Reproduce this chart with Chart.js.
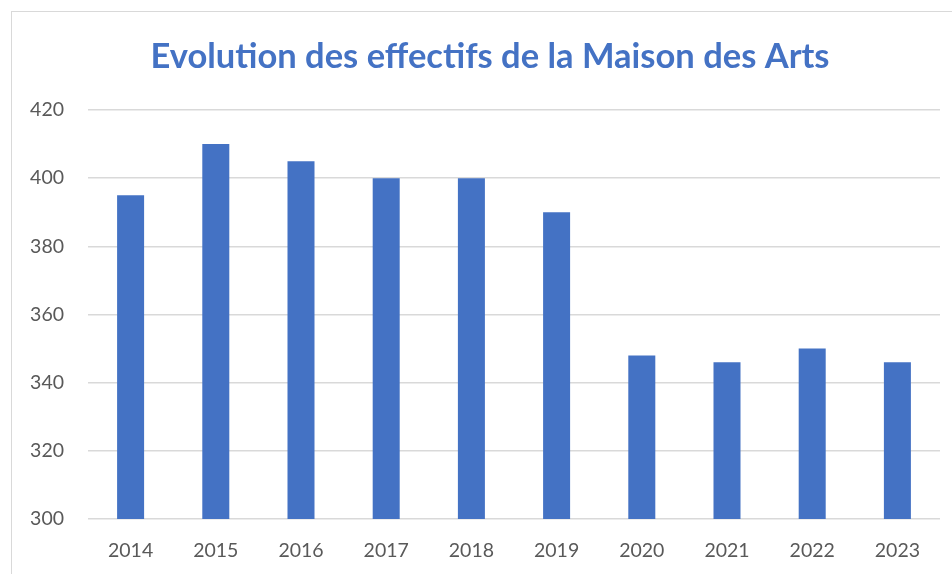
<!DOCTYPE html>
<html><head><meta charset="utf-8">
<script src="https://cdn.jsdelivr.net/npm/chart.js@4"></script>
<style>
html,body{margin:0;padding:0;background:#fff;overflow:hidden;}
#frame{position:absolute;left:11px;top:11px;width:1000px;height:700px;border:1.5px solid #d9d9d9;}
#wrap{position:absolute;left:0;top:0;width:952px;height:574px;}
</style></head>
<body>
<div id="frame"></div>
<div id="wrap"><canvas id="c" width="952" height="574"></canvas></div>
<script>
const categories = ['2014','2015','2016','2017','2018','2019','2020','2021','2022','2023'];
const effectifs = [395, 410, 405, 400, 400, 390, 348, 346, 350, 346];
const yTicks = [300, 320, 340, 360, 380, 400, 420];
const titleText = 'Evolution des effectifs de la Maison des Arts';

const shiftTitle = {
  id: 'shiftTitle',
  afterLayout(chart) {
    if (chart.titleBlock) { chart.titleBlock.left += 40; }
  }
};

new Chart(document.getElementById('c'), {
  type: 'bar',
  data: {
    labels: categories,
    datasets: [{
      data: effectifs,
      backgroundColor: '#4472C4',
      borderWidth: 0,
      categoryPercentage: 1,
      barPercentage: 0.317
    }]
  },
  plugins: [shiftTitle],
  options: {
    responsive: false,
    animation: false,
    devicePixelRatio: 1,
    layout: { padding: { left: 0, right: 12, top: 0, bottom: 0 } },
    plugins: {
      legend: { display: false },
      tooltip: { enabled: false },
      title: {
        display: true,
        text: titleText,
        color: '#4472C4',
        font: { family: 'Lato', size: 34.5, weight: 'bold', lineHeight: 1.2 },
        padding: { top: 36, bottom: 32.6 }
      }
    },
    scales: {
      x: {
        grid: { display: false, drawTicks: false },
        border: { display: false },
        ticks: { color: '#595959', font: { family: 'Lato', size: 19.5 }, padding: 20, maxRotation: 0 },
        afterFit: s => { s.height = 55; }
      },
      y: {
        min: 300, max: 420,
        afterBuildTicks: s => { s.ticks = yTicks.map(v => ({ value: v })); },
        grid: { color: '#d9d9d9', lineWidth: 1.5, drawTicks: false },
        border: { display: false },
        ticks: { color: '#595959', font: { family: 'Lato', size: 19.5 }, padding: 24 },
        afterFit: s => { s.width = 88; }
      }
    }
  }
});
</script>
</body></html>
